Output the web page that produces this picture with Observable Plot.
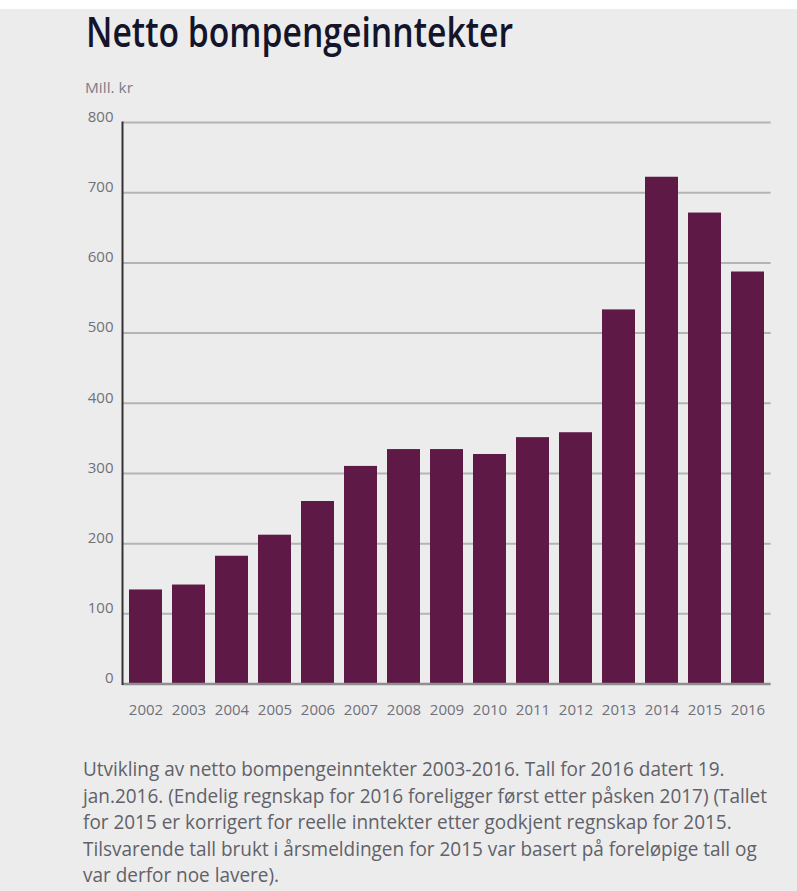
<!DOCTYPE html>
<html>
<head>
<meta charset="utf-8">
<script src="https://cdn.jsdelivr.net/npm/d3@7"></script>
<script src="https://cdn.jsdelivr.net/npm/@observablehq/plot@0.6"></script>
<style>
  html, body { margin: 0; padding: 0; background: #ececec; }
  #wrap { position: relative; width: 797px; height: 891px; overflow: hidden; background: #ececec; }
  #topstrip { position: absolute; left: 0; top: 0; width: 797px; height: 9px; background: #ffffff; }
  #title { position: absolute; left: 86px; top: 5px; margin: 0; font-family: "Open Sans", sans-serif; font-weight: 600;
           font-size: 42px; line-height: 52px; color: #14142a; white-space: nowrap; transform-origin: 0 0; }
  #unit { position: absolute; left: 85px; top: 78px; font-family: "Open Sans", sans-serif; font-size: 14px; color: #7c7c88; white-space: nowrap; transform-origin: 0 0; }
  #chart { position: absolute; left: 0; top: 0; }
  #caption { position: absolute; left: 83px; top: 756px; font-family: "Open Sans", sans-serif; font-size: 19.5px; line-height: 26.5px;
             color: #616169; transform-origin: 0 0; }
  #caption div { white-space: nowrap; }
</style>
</head>
<body>
<div id="wrap">
  <div id="topstrip"></div>
  <div id="chart"></div>
  <h1 id="title">Netto bompengeinntekter</h1>
  <div id="unit">Mill. kr</div>
  <div id="caption">
    <div>Utvikling av netto bompengeinntekter 2003-2016. Tall for 2016 datert 19.</div>
    <div>jan.2016. (Endelig regnskap for 2016 foreligger først etter påsken 2017) (Tallet</div>
    <div>for 2015 er korrigert for reelle inntekter etter godkjent regnskap for 2015.</div>
    <div>Tilsvarende tall brukt i årsmeldingen for 2015 var basert på foreløpige tall og</div>
    <div>var derfor noe lavere).</div>
  </div>
</div>
<script>
const years = ["2002","2003","2004","2005","2006","2007","2008","2009","2010","2011","2012","2013","2014","2015","2016"];
const values = [134, 141, 182, 212, 260, 310, 334, 334, 327, 351, 358, 533, 722, 671, 587];
const yTicks = [0, 100, 200, 300, 400, 500, 600, 700, 800];
const gridTicks = [100, 200, 300, 400, 500, 600, 700, 800];

const data = years.map((y, i) => ({year: y, value: values[i]}));

const chart = Plot.plot({
  width: 797,
  height: 730,
  marginLeft: 122,
  marginRight: 26.4,
  marginTop: 122,
  marginBottom: 46.5,
  style: {background: "transparent", color: "#70707a", fontFamily: "'Open Sans', sans-serif", fontSize: "15px"},
  x: {domain: years, paddingInner: 0.232, paddingOuter: 0.146, label: null},
  y: {domain: [0, 800], label: null},
  marks: [
    Plot.ruleY(gridTicks, {stroke: "#b4b4b4", strokeWidth: 2}),
    Plot.barY(data, {x: "year", y: "value", fill: "#5e1946"}),
    Plot.ruleY([0], {stroke: "#8e8e8e", strokeWidth: 2.5}),
    Plot.frame({anchor: "left", stroke: "#333333", strokeWidth: 2}),
    Plot.axisY({ticks: yTicks, tickSize: 0, tickPadding: 9, dy: -5.5, fontSize: 15, label: null}),
    Plot.axisX({tickSize: 0, tickPadding: 20, fontSize: 15, label: null})
  ]
});
document.getElementById("chart").appendChild(chart);

function fit(el, target) {
  const w = el.getBoundingClientRect().width;
  if (w > 0) el.style.transform = `scaleX(${target / w})`;
}
const title = document.getElementById("title");
title.style.display = "inline-block";
fit(title, 427);
const unit = document.getElementById("unit");
fit(unit, 48);
const cap = document.getElementById("caption");
const lines = [...cap.querySelectorAll("div")];
lines.forEach(l => l.style.display = "inline-block");
const widest = Math.max(...lines.map(l => l.getBoundingClientRect().width));
lines.forEach(l => l.style.display = "block");
cap.style.width = widest + "px";
cap.style.transform = `scaleX(${684 / widest})`;
</script>
</body>
</html>
